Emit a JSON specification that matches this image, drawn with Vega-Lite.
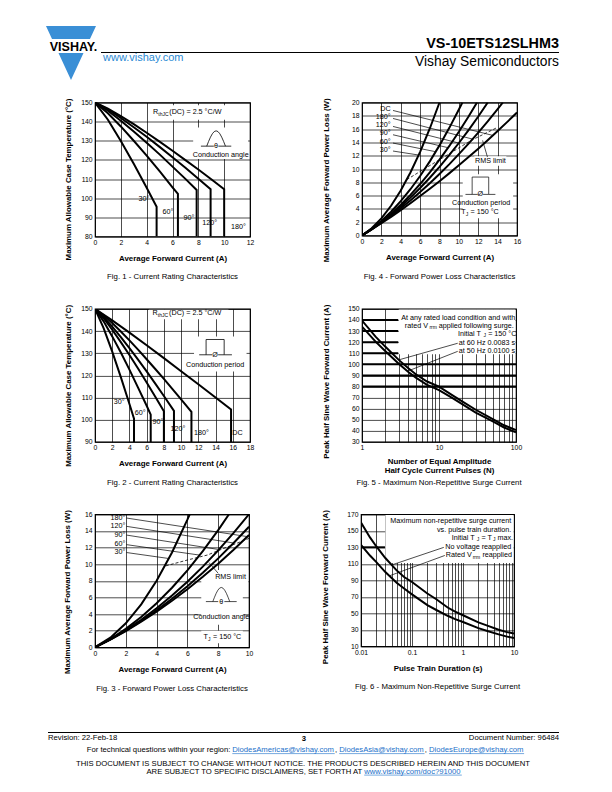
{
"$schema": "https://vega.github.io/schema/vega-lite/v6.json",
"padding": {"left": 45, "top": 26, "right": 0, "bottom": 0},
"background": "white",
"config": {
  "font": "Liberation Sans",
  "mark": {"color": "black"},
  "view": {"stroke": "black", "strokeWidth": 1.2},
  "axis": {"grid": true, "gridColor": "black", "gridOpacity": 1, "gridWidth": 0.7, "domain": false, "ticks": false, "labelFont": "Liberation Sans", "labelFontSize": 6.8, "labelColor": "black", "labelPadding": 3, "labelFlush": false, "labelOverlap": false, "titleFont": "Liberation Sans", "titleFontSize": 7.9, "titleFontWeight": "bold", "titleColor": "black", "titlePadding": 8},
  "title": {"font": "Liberation Sans", "fontSize": 7.8, "fontWeight": "normal", "color": "black", "orient": "bottom", "anchor": "middle", "offset": 11},
  "text": {"font": "Liberation Sans", "fontSize": 7.2, "color": "black"}
},
"datasets": {
  "f1c": [
    {"s":"30","x":0,"y":150},{"s":"30","x":1,"y":141.0},{"s":"30","x":2,"y":129.9},{"s":"30","x":3,"y":118.0},{"s":"30","x":4,"y":105.5},{"s":"30","x":4.77,"y":95.5},{"s":"30","x":4.77,"y":80},
    {"s":"60","x":0,"y":150},{"s":"60","x":1,"y":144.4},{"s":"60","x":2,"y":137.5},{"s":"60","x":3,"y":130.0},{"s":"60","x":4,"y":122.2},{"s":"60","x":5,"y":114.1},{"s":"60","x":6,"y":105.7},{"s":"60","x":6.42,"y":102.3},{"s":"60","x":6.42,"y":80},
    {"s":"90","x":0,"y":150},{"s":"90","x":1,"y":145.7},{"s":"90","x":2,"y":140.5},{"s":"90","x":3,"y":134.9},{"s":"90","x":4,"y":129.0},{"s":"90","x":5,"y":122.9},{"s":"90","x":6,"y":116.5},{"s":"90","x":7,"y":110.1},{"s":"90","x":7.87,"y":104.3},{"s":"90","x":7.87,"y":80},
    {"s":"120","x":0,"y":150},{"s":"120","x":1,"y":146.4},{"s":"120","x":2,"y":141.9},{"s":"120","x":3,"y":137.1},{"s":"120","x":4,"y":132.1},{"s":"120","x":5,"y":126.8},{"s":"120","x":6,"y":121.4},{"s":"120","x":7,"y":115.9},{"s":"120","x":8,"y":110.2},{"s":"120","x":8.95,"y":104.7},{"s":"120","x":8.95,"y":80},
    {"s":"180","x":0,"y":150},{"s":"180","x":1,"y":146.8},{"s":"180","x":2,"y":142.9},{"s":"180","x":3,"y":138.7},{"s":"180","x":4,"y":134.2},{"s":"180","x":5,"y":129.6},{"s":"180","x":6,"y":124.8},{"s":"180","x":7,"y":119.9},{"s":"180","x":8,"y":115.0},{"s":"180","x":9,"y":109.9},{"s":"180","x":10,"y":104.7},{"s":"180","x":10,"y":80}
  ],
  "f1i": [
    {"s":"h","x":8.65,"y":127.2},{"s":"h","x":8.795,"y":129.67},{"s":"h","x":8.94,"y":131.9},{"s":"h","x":9.085,"y":133.67},{"s":"h","x":9.23,"y":134.81},{"s":"h","x":9.375,"y":135.2},{"s":"h","x":9.52,"y":134.81},{"s":"h","x":9.665,"y":133.67},{"s":"h","x":9.81,"y":131.9},{"s":"h","x":9.955,"y":129.67},{"s":"h","x":10.1,"y":127.2},
    {"s":"l","x":8.2,"y":127.2},{"s":"l","x":9.2,"y":127.2},
    {"s":"r","x":9.55,"y":127.2},{"s":"r","x":10.55,"y":127.2}
  ],
  "f1b": [
    {"x":4.3,"x2":10.5,"y":148.6,"y2":141.0},
    {"x":7.6,"x2":11.85,"y":137.0,"y2":120.5}
  ],
  "f1t": [
    {"t":"30°","x":3.79,"y":99.5},{"t":"60°","x":5.65,"y":92.9},{"t":"90°","x":7.28,"y":89.6},{"t":"120°","x":8.88,"y":87.3},{"t":"180°","x":11.1,"y":85},
    {"t":"Conduction angle","x":9.73,"y":122.6},{"t":"θ","x":9.375,"y":127.2}
  ],
  "f1tl": [{"t":"R","x":4.49,"y":145},{"t":"(DC) = 2.5 °C/W","x":5.75,"y":145}],
  "f1ts": [{"t":"thJC","x":4.9,"y":143.95}],

  "f4c": [
    {"s":"30","x":0,"y":0},{"s":"30","x":1,"y":1.089},{"s":"30","x":2,"y":2.58},{"s":"30","x":3,"y":4.475},{"s":"30","x":4,"y":6.77},{"s":"30","x":5,"y":9.475},{"s":"30","x":6,"y":12.58},{"s":"30","x":7,"y":16.09},{"s":"30","x":8,"y":20},
    {"s":"60","x":0,"y":0},{"s":"60","x":1,"y":0.988},{"s":"60","x":2,"y":2.177},{"s":"60","x":3,"y":3.568},{"s":"60","x":4,"y":5.16},{"s":"60","x":5,"y":6.955},{"s":"60","x":6,"y":8.95},{"s":"60","x":7,"y":11.15},{"s":"60","x":8,"y":13.55},{"s":"60","x":9,"y":16.15},{"s":"60","x":10,"y":18.95},{"s":"60","x":10.36,"y":20},
    {"s":"90","x":0,"y":0},{"s":"90","x":1,"y":0.954},{"s":"90","x":2,"y":2.04},{"s":"90","x":3,"y":3.266},{"s":"90","x":4,"y":4.62},{"s":"90","x":5,"y":6.115},{"s":"90","x":6,"y":7.74},{"s":"90","x":7,"y":9.5},{"s":"90","x":8,"y":11.4},{"s":"90","x":9,"y":13.43},{"s":"90","x":10,"y":15.59},{"s":"90","x":11,"y":17.89},{"s":"90","x":11.87,"y":20},
    {"s":"120","x":0,"y":0},{"s":"120","x":1,"y":0.937},{"s":"120","x":2,"y":1.98},{"s":"120","x":3,"y":3.115},{"s":"120","x":4,"y":4.35},{"s":"120","x":5,"y":5.695},{"s":"120","x":6,"y":7.14},{"s":"120","x":7,"y":8.68},{"s":"120","x":8,"y":10.32},{"s":"120","x":9,"y":12.07},{"s":"120","x":10,"y":13.91},{"s":"120","x":11,"y":15.86},{"s":"120","x":12,"y":17.9},{"s":"120","x":12.98,"y":20},
    {"s":"180","x":0,"y":0},{"s":"180","x":1,"y":0.921},{"s":"180","x":2,"y":1.91},{"s":"180","x":3,"y":2.963},{"s":"180","x":4,"y":4.09},{"s":"180","x":5,"y":5.275},{"s":"180","x":6,"y":6.53},{"s":"180","x":7,"y":7.855},{"s":"180","x":8,"y":9.25},{"s":"180","x":9,"y":10.7},{"s":"180","x":10,"y":12.23},{"s":"180","x":11,"y":13.82},{"s":"180","x":12,"y":15.48},{"s":"180","x":13,"y":17.21},{"s":"180","x":14,"y":19.0},{"s":"180","x":14.54,"y":20},
    {"s":"DC","x":0,"y":0},{"s":"DC","x":1,"y":0.904},{"s":"DC","x":2,"y":1.84},{"s":"DC","x":3,"y":2.812},{"s":"DC","x":4,"y":3.82},{"s":"DC","x":5,"y":4.855},{"s":"DC","x":6,"y":5.93},{"s":"DC","x":7,"y":7.03},{"s":"DC","x":8,"y":8.17},{"s":"DC","x":9,"y":9.34},{"s":"DC","x":10,"y":10.55},{"s":"DC","x":11,"y":11.79},{"s":"DC","x":12,"y":13.06},{"s":"DC","x":13,"y":14.37},{"s":"DC","x":14,"y":15.71},{"s":"DC","x":15,"y":17.09},{"s":"DC","x":16,"y":18.49}
  ],
  "f4l": [
    {"s":"DC","x":3.2,"y":18.8},{"s":"DC","x":13.5,"y":15.05},
    {"s":"180","x":3.2,"y":17.6},{"s":"180","x":11.4,"y":14.5},
    {"s":"120","x":3.2,"y":16.4},{"s":"120","x":10.0,"y":13.9},
    {"s":"90","x":3.2,"y":15.15},{"s":"90","x":8.9,"y":13.2},
    {"s":"60","x":3.2,"y":13.9},{"s":"60","x":7.6,"y":12.6},
    {"s":"30","x":3.2,"y":12.7},{"s":"30","x":5.85,"y":12.1},
    {"s":"rms","x":12.45,"y":14.3},{"s":"rms","x":12.95,"y":11.8},
    {"s":"p","x":10.68,"y":6.18},{"s":"p","x":11.37,"y":6.18},{"s":"p","x":11.37,"y":8.79},{"s":"p","x":13.08,"y":8.79},{"s":"p","x":13.08,"y":6.18},{"s":"p","x":13.77,"y":6.18},
    {"s":"pl","x":11.37,"y":6.18},{"s":"pl","x":11.95,"y":6.18},
    {"s":"pr","x":12.5,"y":6.18},{"s":"pr","x":13.08,"y":6.18}
  ],
  "f4d": [{"x":4.62,"y":8.4},{"x":6.53,"y":10.1},{"x":8.0,"y":11.4},{"x":9.24,"y":12.5},{"x":11.31,"y":14.33},{"x":13.9,"y":16.2}],
  "f4b": [{"x":10.4,"x2":15.6,"y":9.2,"y2":2.6},{"x":11.6,"x2":14.9,"y":11.9,"y2":10.5}],
  "f4tr": [{"t":"DC","x":2.95,"y":19.0},{"t":"180°","x":2.95,"y":17.8},{"t":"120°","x":2.95,"y":16.6},{"t":"90°","x":2.95,"y":15.35},{"t":"60°","x":2.95,"y":14.1},{"t":"30°","x":2.95,"y":12.9}],
  "f4t": [{"t":"RMS limit","x":13.25,"y":11.2},{"t":"Conduction period","x":12.3,"y":4.93},{"t":"Ø","x":12.22,"y":6.18}],
  "f4tl": [{"t":"T","x":10.24,"y":3.57},{"t":"= 150 °C","x":11.2,"y":3.57}],
  "f4ts": [{"t":"J","x":10.72,"y":3.27}],

  "f2c": [
    {"s":"30","x":0,"y":150},{"s":"30","x":1,"y":141.3},{"s":"30","x":2,"y":130.7},{"s":"30","x":3,"y":119.2},{"s":"30","x":4,"y":107.1},{"s":"30","x":4.53,"y":100.5},{"s":"30","x":4.53,"y":90},
    {"s":"60","x":0,"y":150},{"s":"60","x":1,"y":144.4},{"s":"60","x":2,"y":137.6},{"s":"60","x":3,"y":130.3},{"s":"60","x":4,"y":122.6},{"s":"60","x":5,"y":114.5},{"s":"60","x":6,"y":106.3},{"s":"60","x":6.47,"y":102.3},{"s":"60","x":6.47,"y":90},
    {"s":"90","x":0,"y":150},{"s":"90","x":1,"y":145.8},{"s":"90","x":2,"y":140.6},{"s":"90","x":3,"y":135.0},{"s":"90","x":4,"y":129.2},{"s":"90","x":5,"y":123.1},{"s":"90","x":6,"y":116.8},{"s":"90","x":7,"y":110.4},{"s":"90","x":8,"y":103.8},{"s":"90","x":8,"y":90},
    {"s":"120","x":0,"y":150},{"s":"120","x":1,"y":146.4},{"s":"120","x":2,"y":142.0},{"s":"120","x":3,"y":137.3},{"s":"120","x":4,"y":132.3},{"s":"120","x":5,"y":127.1},{"s":"120","x":6,"y":121.8},{"s":"120","x":7,"y":116.3},{"s":"120","x":8,"y":110.7},{"s":"120","x":9.17,"y":104},{"s":"120","x":9.17,"y":90},
    {"s":"180","x":0,"y":150},{"s":"180","x":1,"y":147.1},{"s":"180","x":2,"y":143.6},{"s":"180","x":3,"y":139.8},{"s":"180","x":4,"y":135.8},{"s":"180","x":5,"y":131.6},{"s":"180","x":6,"y":127.3},{"s":"180","x":7,"y":122.9},{"s":"180","x":8,"y":118.4},{"s":"180","x":9,"y":113.8},{"s":"180","x":10,"y":109.2},{"s":"180","x":11.2,"y":103.5},{"s":"180","x":11.2,"y":90},
    {"s":"DC","x":0,"y":150},{"s":"DC","x":2,"y":144.8},{"s":"DC","x":4,"y":139.3},{"s":"DC","x":6,"y":133.6},{"s":"DC","x":8,"y":127.8},{"s":"DC","x":10,"y":121.9},{"s":"DC","x":12,"y":116.0},{"s":"DC","x":14,"y":110.0},{"s":"DC","x":15.8,"y":104.6},{"s":"DC","x":15.8,"y":90}
  ],
  "f2i": [
    {"s":"p","x":12.1,"y":129.3},{"s":"p","x":12.9,"y":129.3},{"s":"p","x":12.9,"y":136.2},{"s":"p","x":15.0,"y":136.2},{"s":"p","x":15.0,"y":129.3},{"s":"p","x":15.9,"y":129.3},
    {"s":"pl","x":12.9,"y":129.3},{"s":"pl","x":13.6,"y":129.3},
    {"s":"pr","x":14.3,"y":129.3},{"s":"pr","x":15.0,"y":129.3}
  ],
  "f2b": [{"x":6.25,"x2":15.5,"y":149.6,"y2":145.3},{"x":11.5,"x2":17.6,"y":137.5,"y2":121.8}],
  "f2t": [
    {"t":"30°","x":2.8,"y":108.2},{"t":"60°","x":5.25,"y":103},{"t":"90°","x":7.32,"y":98.9},{"t":"120°","x":9.64,"y":95.6},{"t":"180°","x":12.35,"y":94},{"t":"DC","x":16.55,"y":94},
    {"t":"Conduction period","x":13.95,"y":124.8},{"t":"Ø","x":13.95,"y":129.3}
  ],
  "f2tl": [{"t":"R","x":6.67,"y":148.3},{"t":"(DC) = 2.5 °C/W","x":8.6,"y":148.3}],
  "f2ts": [{"t":"thJC","x":7.3,"y":147.4}],

  "f5c": [
    {"s":"a","x":1,"y":139.5},{"s":"a","x":1.5,"y":125},{"s":"a","x":2,"y":116},{"s":"a","x":3,"y":104},{"s":"a","x":4,"y":96.5},{"s":"a","x":5,"y":91},{"s":"a","x":7,"y":84.5},{"s":"a","x":10,"y":79.8},{"s":"a","x":15,"y":72},{"s":"a","x":20,"y":66.5},{"s":"a","x":30,"y":59},{"s":"a","x":50,"y":50.5},{"s":"a","x":70,"y":45},{"s":"a","x":100,"y":40.7},
    {"s":"b","x":1,"y":134},{"s":"b","x":1.5,"y":120.5},{"s":"b","x":2,"y":112},{"s":"b","x":3,"y":100.5},{"s":"b","x":4,"y":93},{"s":"b","x":5,"y":88},{"s":"b","x":7,"y":81.5},{"s":"b","x":10,"y":76.8},{"s":"b","x":15,"y":69.5},{"s":"b","x":20,"y":64},{"s":"b","x":30,"y":56.5},{"s":"b","x":50,"y":48.5},{"s":"b","x":70,"y":43},{"s":"b","x":100,"y":38.6}
  ],
  "f5g": [{"x":1,"x2":2.95,"y":140},{"x":1,"x2":2.95,"y":130},{"x":1,"x2":2.95,"y":120},{"x":1,"x2":2.95,"y":110},{"x":1,"x2":100,"y":100},{"x":1,"x2":100,"y":90},{"x":1,"x2":100,"y":80}],
  "f5l": [{"s":"a","x":3.0,"y":104},{"s":"a","x":17.5,"y":119.0},{"s":"b","x":3.9,"y":93.8},{"s":"b","x":17.5,"y":111.7}],
  "f5b": [{"x":3.0,"x2":98.5,"y":109,"y2":149.4}],
  "f5tr": [{"t":"At any rated load condition and with","x":97.5,"y":142.1},{"t":"at 60 Hz 0.0083 s","x":97.5,"y":119.35},{"t":"at 50 Hz 0.0100 s","x":97.5,"y":112.1}],
  "f5tl": [{"t":"rated V","x":3.6,"y":134.9},{"t":"applied following surge.","x":9.9,"y":134.9},{"t":"Initial T","x":17.6,"y":127.4},{"t":"= 150 °C","x":43.5,"y":127.4}],
  "f5ts": [{"t":"rrm","x":7.5,"y":133.4},{"t":"J","x":37.8,"y":126.6}],

  "f3c": [
    {"s":"30","x":0,"y":0},{"s":"30","x":1,"y":1.166},{"s":"30","x":2,"y":2.889},{"s":"30","x":3,"y":5.17},{"s":"30","x":4,"y":8.009},{"s":"30","x":5,"y":11.405},{"s":"30","x":6,"y":15.359},{"s":"30","x":6.15,"y":16},
    {"s":"60","x":0,"y":0},{"s":"60","x":1,"y":0.996},{"s":"60","x":2,"y":2.212},{"s":"60","x":3,"y":3.646},{"s":"60","x":4,"y":5.298},{"s":"60","x":5,"y":7.17},{"s":"60","x":6,"y":9.26},{"s":"60","x":7,"y":11.57},{"s":"60","x":8,"y":14.097},{"s":"60","x":8.7,"y":16},
    {"s":"90","x":0,"y":0},{"s":"90","x":1,"y":0.958},{"s":"90","x":2,"y":2.059},{"s":"90","x":3,"y":3.303},{"s":"90","x":4,"y":4.689},{"s":"90","x":5,"y":6.218},{"s":"90","x":6,"y":7.889},{"s":"90","x":7,"y":9.703},{"s":"90","x":8,"y":11.659},{"s":"90","x":9,"y":13.758},{"s":"90","x":10,"y":16},
    {"s":"120","x":0,"y":0},{"s":"120","x":1,"y":0.943},{"s":"120","x":2,"y":1.999},{"s":"120","x":3,"y":3.168},{"s":"120","x":4,"y":4.449},{"s":"120","x":5,"y":5.843},{"s":"120","x":6,"y":7.349},{"s":"120","x":7,"y":8.968},{"s":"120","x":8,"y":10.699},{"s":"120","x":9,"y":12.543},{"s":"120","x":10,"y":14.5},
    {"s":"180","x":0,"y":0},{"s":"180","x":1,"y":0.933},{"s":"180","x":2,"y":1.959},{"s":"180","x":3,"y":3.078},{"s":"180","x":4,"y":4.289},{"s":"180","x":5,"y":5.593},{"s":"180","x":6,"y":6.989},{"s":"180","x":7,"y":8.478},{"s":"180","x":8,"y":10.059},{"s":"180","x":9,"y":11.733},{"s":"180","x":10,"y":13.5}
  ],
  "f3l": [
    {"s":"180","x":2.05,"y":15.55},{"s":"180","x":9.95,"y":13.3},
    {"s":"120","x":2.05,"y":14.55},{"s":"120","x":9.0,"y":12.55},
    {"s":"90","x":2.05,"y":13.5},{"s":"90","x":8.05,"y":11.76},
    {"s":"60","x":2.05,"y":12.35},{"s":"60","x":6.8,"y":11.09},
    {"s":"30","x":2.05,"y":11.4},{"s":"30","x":4.8,"y":10.68},
    {"s":"rms","x":7.4,"y":10.2},{"s":"rms","x":8.0,"y":8.9},
    {"s":"h","x":7.65,"y":5.5},{"s":"h","x":7.76,"y":6.025},{"s":"h","x":7.87,"y":6.5},{"s":"h","x":7.98,"y":6.875},{"s":"h","x":8.09,"y":7.117},{"s":"h","x":8.2,"y":7.2},{"s":"h","x":8.31,"y":7.117},{"s":"h","x":8.42,"y":6.875},{"s":"h","x":8.53,"y":6.5},{"s":"h","x":8.64,"y":6.025},{"s":"h","x":8.75,"y":5.5},
    {"s":"bl","x":7.2,"y":5.5},{"s":"bl","x":8.0,"y":5.5},
    {"s":"br","x":8.4,"y":5.5},{"s":"br","x":9.2,"y":5.5}
  ],
  "f3d": [{"x":4.6,"y":9.8},{"x":6.0,"y":10.5},{"x":7.3,"y":11.1},{"x":8.5,"y":12.0},{"x":10,"y":13.1}],
  "f3b": [{"x":7.6,"x2":9.95,"y":9.3,"y2":7.7},{"x":6.9,"x2":9.6,"y":8.0,"y2":2.7},{"x":6.9,"x2":9.6,"y":2.0,"y2":0.5}],
  "f3tr": [{"t":"180°","x":1.98,"y":15.6},{"t":"120°","x":1.98,"y":14.6},{"t":"90°","x":1.98,"y":13.55},{"t":"60°","x":1.98,"y":12.4},{"t":"30°","x":1.98,"y":11.45}],
  "f3t": [{"t":"RMS limit","x":8.8,"y":8.5},{"t":"Conduction angle","x":8.2,"y":3.7},{"t":"θ","x":8.2,"y":5.5}],
  "f3tl": [{"t":"T","x":7.04,"y":1.26},{"t":"= 150 °C","x":7.66,"y":1.26}],
  "f3ts": [{"t":"J","x":7.34,"y":1.02}],

  "f6c": [
    {"s":"a","x":0.01,"y":160},{"s":"a","x":0.015,"y":142},{"s":"a","x":0.02,"y":131},{"s":"a","x":0.03,"y":117},{"s":"a","x":0.05,"y":102},{"s":"a","x":0.07,"y":94},{"s":"a","x":0.1,"y":88},{"s":"a","x":0.2,"y":74},{"s":"a","x":0.3,"y":67},{"s":"a","x":0.5,"y":57},{"s":"a","x":0.7,"y":52},{"s":"a","x":1,"y":47.6},{"s":"a","x":2,"y":39},{"s":"a","x":3,"y":35},{"s":"a","x":5,"y":30},{"s":"a","x":7,"y":27.5},{"s":"a","x":10,"y":25.5},
    {"s":"b","x":0.01,"y":133},{"s":"b","x":0.015,"y":120},{"s":"b","x":0.02,"y":112},{"s":"b","x":0.03,"y":100},{"s":"b","x":0.05,"y":87},{"s":"b","x":0.07,"y":80},{"s":"b","x":0.1,"y":73},{"s":"b","x":0.2,"y":60},{"s":"b","x":0.3,"y":54},{"s":"b","x":0.5,"y":47},{"s":"b","x":0.7,"y":43},{"s":"b","x":1,"y":39.5},{"s":"b","x":2,"y":32},{"s":"b","x":3,"y":28.5},{"s":"b","x":5,"y":24.5},{"s":"b","x":7,"y":22},{"s":"b","x":10,"y":20}
  ],
  "f6g": [{"x":0.01,"x2":0.0295,"y":130}],
  "f6l": [{"s":"a","x":0.04,"y":108.6},{"s":"a","x":0.42,"y":129.9},{"s":"b","x":0.036,"y":95.4},{"s":"b","x":0.44,"y":120.1}],
  "f6b": [{"x":0.03,"x2":9.8,"y":111,"y2":169.2}],
  "f6tr": [{"t":"Maximum non-repetitive surge current","x":8.85,"y":161.9},{"t":"vs. pulse train duration.","x":8.85,"y":151.4},{"t":"No voltage reapplied","x":8.85,"y":130.4}],
  "f6tl": [{"t":"Initial T","x":0.6,"y":141.8},{"t":"= T","x":2.3,"y":141.8},{"t":"max.","x":4.75,"y":141.8},{"t":"Rated V","x":0.46,"y":120.7},{"t":"reapplied","x":2.4,"y":120.7}],
  "f6ts": [{"t":"J","x":1.85,"y":140.1},{"t":"J","x":3.87,"y":140.1},{"t":"rrm","x":1.55,"y":118.3}],

  "hdr": [{"t":"VS-10ETS12SLHM3","x":464,"y":22}],
  "hdr2": [{"t":"Vishay Semiconductors","x":464,"y":36}],
  "hdrw": [{"t":"www.vishay.com","x":8,"y":32}],
  "logo": [{"x":-24,"y":27}],
  "logot": [{"t":"VISHAY.","x":-21.5,"y":20.5}],
  "hrule": [{"x":6,"x2":464,"y":26.5}],

  "frule": [{"x":-47,"x2":464,"y":33.5}],
  "fl": [{"t":"Revision: 22-Feb-18","x":-47,"y":39}],
  "fc": [{"t":"3","x":209,"y":39.5}],
  "fr": [{"t":"Document Number: 96484","x":464,"y":39},{"t":"For technical questions within your region:","x":135.3,"y":51},{"t":"ARE SUBJECT TO SPECIFIC DISCLAIMERS, SET FORTH AT","x":267.2,"y":72.5}],
  "fblue": [{"t":"DiodesAmericas@vishay.com","x":137.3,"y":51},{"t":"DiodesAsia@vishay.com","x":244.2,"y":51},{"t":"DiodesEurope@vishay.com","x":334,"y":51},{"t":"www.vishay.com/doc?91000","x":269.2,"y":72.5}],
  "fu": [{"x":137.3,"x2":239.7,"y":54.6},{"x":244.2,"x2":329.5,"y":54.6},{"x":334,"x2":429.1,"y":54.6},{"x":269.2,"x2":366.8,"y":76.1}],
  "fcomma": [{"t":",","x":239.9,"y":51},{"t":",","x":329.7,"y":51}],
  "fc2": [{"t":"THIS DOCUMENT IS SUBJECT TO CHANGE WITHOUT NOTICE. THE PRODUCTS DESCRIBED HEREIN AND THIS DOCUMENT","x":208,"y":64.5}]
},
"spacing": 5.5,
"vconcat": [
  {
    "width": 464, "height": 64.8,
    "view": {"stroke": null},
    "encoding": {
      "x": {"field": "x", "type": "quantitative", "scale": {"domain": [0, 464], "nice": false, "zero": false}, "axis": null},
      "y": {"field": "y", "type": "quantitative", "scale": {"domain": [0, 64.8], "nice": false, "zero": false, "reverse": true}, "axis": null}
    },
    "layer": [
      {"data": {"name": "logo"}, "mark": {"type": "point", "filled": true, "opacity": 1, "color": "#3a8fd6", "size": 2916, "shape": "M-0.926,-1 L0.926,-1 L0.703,-0.519 L-0.703,-0.519 Z M-0.463,0 L0.463,0 L0,1 Z", "clip": false}},
      {"data": {"name": "logot"}, "mark": {"type": "text", "fontSize": 12.5, "fontWeight": "bold", "align": "center"}, "encoding": {"text": {"field": "t"}}},
      {"data": {"name": "hdr"}, "mark": {"type": "text", "fontSize": 14.4, "fontWeight": "bold", "align": "right", "baseline": "alphabetic"}, "encoding": {"text": {"field": "t"}}},
      {"data": {"name": "hdr2"}, "mark": {"type": "text", "fontSize": 13.8, "align": "right"}, "encoding": {"text": {"field": "t"}}},
      {"data": {"name": "hdrw"}, "mark": {"type": "text", "fontSize": 11, "align": "left", "color": "#2a8ad4"}, "encoding": {"text": {"field": "t"}}},
      {"data": {"name": "hrule"}, "mark": {"type": "rule", "strokeWidth": 1.2}, "encoding": {"x2": {"field": "x2"}}}
    ]
  },
  {
    "spacing": 20.4,
    "vconcat": [
      {
        "hconcat": [
          {
            "width": 155, "height": 134,
            "title": {"text": "Fig. 1 - Current Rating Characteristics"},
            "encoding": {
              "x": {"field": "x", "type": "quantitative", "scale": {"domain": [0, 12], "nice": false}, "axis": {"title": "Average Forward Current (A)", "values": [0,2,4,6,8,10,12]}},
              "y": {"field": "y", "type": "quantitative", "scale": {"domain": [80, 150], "nice": false, "zero": false}, "axis": {"title": "Maximum Allowable Case Temperature (°C)", "values": [80,90,100,110,120,130,140,150], "titleX": -23, "titleY": 76.5}}
            },
            "layer": [
              {"data": {"name": "f1b"}, "mark": {"type": "rect", "fill": "white"}, "encoding": {"x2": {"field": "x2"}, "y2": {"field": "y2"}}},
              {"data": {"name": "f1c"}, "mark": {"type": "line", "strokeWidth": 2, "clip": true}, "encoding": {"detail": {"field": "s"}}},
              {"data": {"name": "f1i"}, "mark": {"type": "line", "strokeWidth": 0.8}, "encoding": {"detail": {"field": "s"}}},
              {"data": {"name": "f1t"}, "mark": {"type": "text", "align": "center"}, "encoding": {"text": {"field": "t"}}},
              {"data": {"name": "f1tl"}, "mark": {"type": "text", "align": "left"}, "encoding": {"text": {"field": "t"}}},
              {"data": {"name": "f1ts"}, "mark": {"type": "text", "align": "left", "fontSize": 5}, "encoding": {"text": {"field": "t"}}}
            ]
          },
          {
            "width": 155, "height": 133,
            "title": {"text": "Fig. 4 - Forward Power Loss Characteristics"},
            "encoding": {
              "x": {"field": "x", "type": "quantitative", "scale": {"domain": [0, 16], "nice": false}, "axis": {"title": "Average Forward Current (A)", "values": [0,2,4,6,8,10,12,14,16]}},
              "y": {"field": "y", "type": "quantitative", "scale": {"domain": [0, 20], "nice": false}, "axis": {"title": "Maximum Average Forward Power Loss (W)", "values": [0,2,4,6,8,10,12,14,16,18,20], "titleX": -32, "titleY": 77.3}}
            },
            "layer": [
              {"data": {"name": "f4b"}, "mark": {"type": "rect", "fill": "white"}, "encoding": {"x2": {"field": "x2"}, "y2": {"field": "y2"}}},
              {"data": {"name": "f4c"}, "mark": {"type": "line", "strokeWidth": 2, "clip": true}, "encoding": {"detail": {"field": "s"}}},
              {"data": {"name": "f4d"}, "mark": {"type": "line", "strokeWidth": 0.8, "strokeDash": [3, 2]}},
              {"data": {"name": "f4l"}, "mark": {"type": "line", "strokeWidth": 0.7}, "encoding": {"detail": {"field": "s"}}},
              {"data": {"name": "f4tr"}, "mark": {"type": "text", "align": "right"}, "encoding": {"text": {"field": "t"}}},
              {"data": {"name": "f4t"}, "mark": {"type": "text", "align": "center"}, "encoding": {"text": {"field": "t"}}},
              {"data": {"name": "f4tl"}, "mark": {"type": "text", "align": "left"}, "encoding": {"text": {"field": "t"}}},
              {"data": {"name": "f4ts"}, "mark": {"type": "text", "align": "left", "fontSize": 5}, "encoding": {"text": {"field": "t"}}}
            ]
          }
        ],
        "spacing": 112,
        "bounds": "flush"
      },
      {
        "hconcat": [
          {
            "width": 155, "height": 133,
            "title": {"text": "Fig. 2 - Current Rating Characteristics"},
            "encoding": {
              "x": {"field": "x", "type": "quantitative", "scale": {"domain": [0, 18], "nice": false}, "axis": {"title": "Average Forward Current (A)", "values": [0,2,4,6,8,10,12,14,16,18]}},
              "y": {"field": "y", "type": "quantitative", "scale": {"domain": [90, 150], "nice": false, "zero": false}, "axis": {"title": "Maximum Allowable Case Temperature (°C)", "values": [90,100,110,120,130,140,150], "titleX": -23, "titleY": 76.5}}
            },
            "layer": [
              {"data": {"name": "f2b"}, "mark": {"type": "rect", "fill": "white"}, "encoding": {"x2": {"field": "x2"}, "y2": {"field": "y2"}}},
              {"data": {"name": "f2c"}, "mark": {"type": "line", "strokeWidth": 2, "clip": true}, "encoding": {"detail": {"field": "s"}}},
              {"data": {"name": "f2i"}, "mark": {"type": "line", "strokeWidth": 0.8}, "encoding": {"detail": {"field": "s"}}},
              {"data": {"name": "f2t"}, "mark": {"type": "text", "align": "center"}, "encoding": {"text": {"field": "t"}}},
              {"data": {"name": "f2tl"}, "mark": {"type": "text", "align": "left"}, "encoding": {"text": {"field": "t"}}},
              {"data": {"name": "f2ts"}, "mark": {"type": "text", "align": "left", "fontSize": 5}, "encoding": {"text": {"field": "t"}}}
            ]
          },
          {
            "width": 154, "height": 133,
            "title": {"text": "Fig. 5 - Maximum Non-Repetitive Surge Current", "offset": 5},
            "encoding": {
              "x": {"field": "x", "type": "quantitative", "scale": {"type": "log", "domain": [1, 100], "nice": false}, "axis": {"title": ["Number of Equal Amplitude", "Half Cycle Current Pulses (N)"], "titleLineHeight": 8.5, "titlePadding": 6, "values": [1,2,3,4,5,6,7,8,9,10,20,30,40,50,60,70,80,90,100], "labelExpr": "datum.value == 1 ? '1' : datum.value == 10 ? '10' : datum.value == 100 ? '100' : ''"}},
              "y": {"field": "y", "type": "quantitative", "scale": {"domain": [30, 150], "nice": false, "zero": false}, "axis": {"title": "Peak Half Sine Wave Forward Current (A)", "values": [30,40,50,60,70,80,90,100,110,120,130,140,150], "titleX": -32, "titleY": 72.3}}
            },
            "layer": [
              {"data": {"name": "f5b"}, "mark": {"type": "rect", "fill": "white"}, "encoding": {"x2": {"field": "x2"}, "y2": {"field": "y2"}}},
              {"data": {"name": "f5g"}, "mark": {"type": "rule", "strokeWidth": 2}, "encoding": {"x2": {"field": "x2"}}},
              {"data": {"name": "f5c"}, "mark": {"type": "line", "strokeWidth": 2, "clip": true}, "encoding": {"detail": {"field": "s"}}},
              {"data": {"name": "f5l"}, "mark": {"type": "line", "strokeWidth": 0.7}, "encoding": {"detail": {"field": "s"}}},
              {"data": {"name": "f5tr"}, "mark": {"type": "text", "align": "right"}, "encoding": {"text": {"field": "t"}}},
              {"data": {"name": "f5tl"}, "mark": {"type": "text", "align": "left"}, "encoding": {"text": {"field": "t"}}},
              {"data": {"name": "f5ts"}, "mark": {"type": "text", "align": "left", "fontSize": 5}, "encoding": {"text": {"field": "t"}}}
            ]
          }
        ],
        "spacing": 112,
        "bounds": "flush"
      },
      {
        "hconcat": [
          {
            "width": 154, "height": 133,
            "title": {"text": "Fig. 3 - Forward Power Loss Characteristics"},
            "encoding": {
              "x": {"field": "x", "type": "quantitative", "scale": {"domain": [0, 10], "nice": false}, "axis": {"title": "Average Forward Current (A)", "values": [0,2,4,6,8,10]}},
              "y": {"field": "y", "type": "quantitative", "scale": {"domain": [0, 16], "nice": false}, "axis": {"title": "Maximum Average Forward Power Loss (W)", "values": [0,2,4,6,8,10,12,14,16], "titleX": -24, "titleY": 77.3}}
            },
            "layer": [
              {"data": {"name": "f3b"}, "mark": {"type": "rect", "fill": "white"}, "encoding": {"x2": {"field": "x2"}, "y2": {"field": "y2"}}},
              {"data": {"name": "f3c"}, "mark": {"type": "line", "strokeWidth": 2, "clip": true}, "encoding": {"detail": {"field": "s"}}},
              {"data": {"name": "f3d"}, "mark": {"type": "line", "strokeWidth": 0.8, "strokeDash": [3, 2]}},
              {"data": {"name": "f3l"}, "mark": {"type": "line", "strokeWidth": 0.7}, "encoding": {"detail": {"field": "s"}}},
              {"data": {"name": "f3tr"}, "mark": {"type": "text", "align": "right"}, "encoding": {"text": {"field": "t"}}},
              {"data": {"name": "f3t"}, "mark": {"type": "text", "align": "center"}, "encoding": {"text": {"field": "t"}}},
              {"data": {"name": "f3tl"}, "mark": {"type": "text", "align": "left"}, "encoding": {"text": {"field": "t"}}},
              {"data": {"name": "f3ts"}, "mark": {"type": "text", "align": "left", "fontSize": 5}, "encoding": {"text": {"field": "t"}}}
            ]
          },
          {
            "width": 153, "height": 132,
            "title": {"text": "Fig. 6 - Maximum Non-Repetitive Surge Current"},
            "encoding": {
              "x": {"field": "x", "type": "quantitative", "scale": {"type": "log", "domain": [0.01, 10], "nice": false}, "axis": {"title": "Pulse Train Duration (s)", "values": [0.01,0.02,0.03,0.04,0.05,0.06,0.07,0.08,0.09,0.1,0.2,0.3,0.4,0.5,0.6,0.7,0.8,0.9,1,2,3,4,5,6,7,8,9,10], "labelExpr": "datum.value == 0.01 ? '0.01' : datum.value == 0.1 ? '0.1' : datum.value == 1 ? '1' : datum.value == 10 ? '10' : ''"}},
              "y": {"field": "y", "type": "quantitative", "scale": {"domain": [10, 170], "nice": false, "zero": false}, "axis": {"title": "Peak Half Sine Wave Forward Current (A)", "values": [10,30,50,70,90,110,130,150,170], "titleX": -32, "titleY": 72.3}}
            },
            "layer": [
              {"data": {"name": "f6b"}, "mark": {"type": "rect", "fill": "white"}, "encoding": {"x2": {"field": "x2"}, "y2": {"field": "y2"}}},
              {"data": {"name": "f6g"}, "mark": {"type": "rule", "strokeWidth": 2}, "encoding": {"x2": {"field": "x2"}}},
              {"data": {"name": "f6c"}, "mark": {"type": "line", "strokeWidth": 2, "clip": true}, "encoding": {"detail": {"field": "s"}}},
              {"data": {"name": "f6l"}, "mark": {"type": "line", "strokeWidth": 0.7}, "encoding": {"detail": {"field": "s"}}},
              {"data": {"name": "f6tr"}, "mark": {"type": "text", "align": "right"}, "encoding": {"text": {"field": "t"}}},
              {"data": {"name": "f6tl"}, "mark": {"type": "text", "align": "left"}, "encoding": {"text": {"field": "t"}}},
              {"data": {"name": "f6ts"}, "mark": {"type": "text", "align": "left", "fontSize": 5}, "encoding": {"text": {"field": "t"}}}
            ]
          }
        ],
        "spacing": 112,
        "bounds": "flush"
      }
    ]
  },
  {
    "width": 464, "height": 80,
    "view": {"stroke": null},
    "encoding": {
      "x": {"field": "x", "type": "quantitative", "scale": {"domain": [0, 464], "nice": false, "zero": false}, "axis": null},
      "y": {"field": "y", "type": "quantitative", "scale": {"domain": [0, 80], "nice": false, "zero": false, "reverse": true}, "axis": null}
    },
    "layer": [
      {"data": {"name": "frule"}, "mark": {"type": "rule", "strokeWidth": 1.2}, "encoding": {"x2": {"field": "x2"}}},
      {"data": {"name": "fu"}, "mark": {"type": "rule", "strokeWidth": 0.6, "color": "#1a6fc9"}, "encoding": {"x2": {"field": "x2"}}},
      {"data": {"name": "fl"}, "mark": {"type": "text", "align": "left", "fontSize": 7.7}, "encoding": {"text": {"field": "t"}}},
      {"data": {"name": "fc"}, "mark": {"type": "text", "align": "center", "fontWeight": "bold", "fontSize": 7.7}, "encoding": {"text": {"field": "t"}}},
      {"data": {"name": "fr"}, "mark": {"type": "text", "align": "right", "fontSize": 7.7}, "encoding": {"text": {"field": "t"}}},
      {"data": {"name": "fblue"}, "mark": {"type": "text", "align": "left", "color": "#1a6fc9", "fontSize": 7.7}, "encoding": {"text": {"field": "t"}}},
      {"data": {"name": "fcomma"}, "mark": {"type": "text", "align": "left", "fontSize": 7.7}, "encoding": {"text": {"field": "t"}}},
      {"data": {"name": "fc2"}, "mark": {"type": "text", "align": "center", "fontSize": 7.7}, "encoding": {"text": {"field": "t"}}}
    ]
  }
]
}
